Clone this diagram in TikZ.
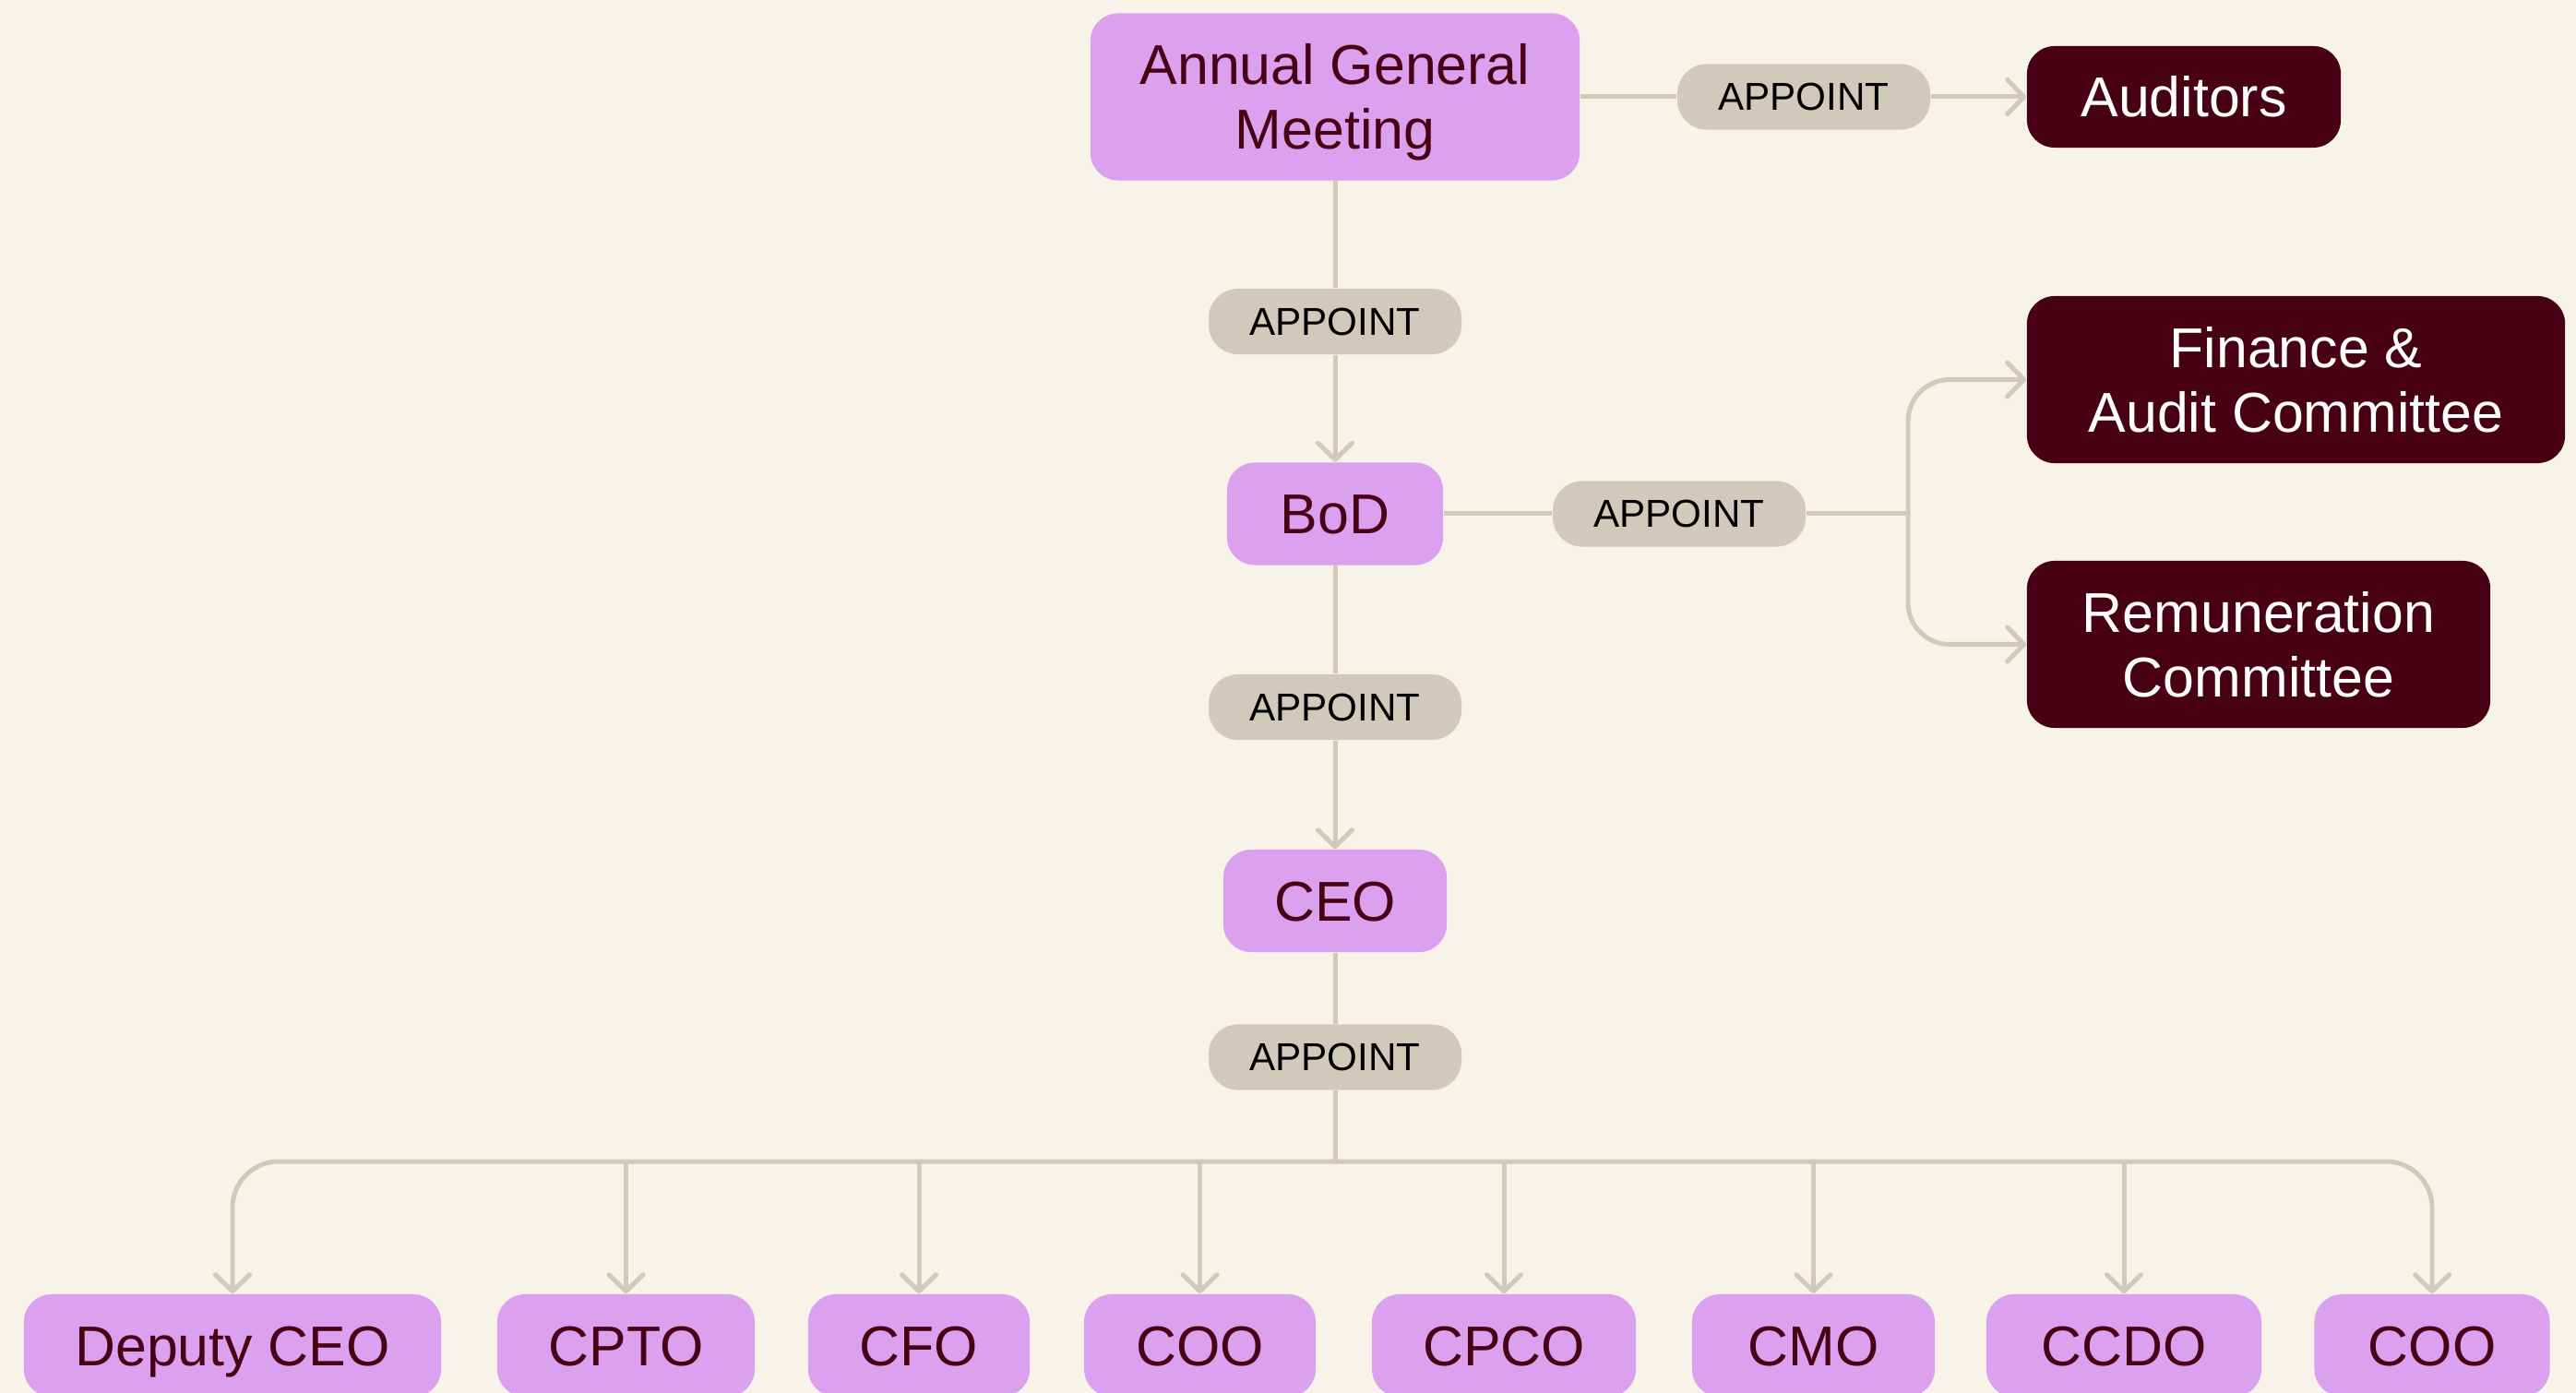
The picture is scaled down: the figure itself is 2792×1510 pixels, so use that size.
\documentclass[tikz,border=0pt]{standalone}
\usepackage{fontspec}
\setmainfont{Liberation Sans}
\usetikzlibrary{arrows.meta}
\definecolor{paper}{RGB}{247,243,233}
\definecolor{lilac}{RGB}{219,160,238}
\definecolor{wine}{RGB}{72,0,20}
\definecolor{sand}{RGB}{209,201,186}
\begin{document}
\begin{tikzpicture}[x=0.01cm,y=-0.01cm]
\tikzstyle{every node}+=[inner sep=0pt]
\tikzstyle{office}=[fill=lilac, text=wine, rounded corners=0.3cm, align=center, text height=12.4pt, text depth=0pt, font=\fontsize{17.3}{20}\selectfont]
\tikzstyle{council}=[fill=wine, text=white, rounded corners=0.3cm, align=center, text height=12.4pt, text depth=0pt, font=\fontsize{17.3}{20}\selectfont]
\tikzstyle{twoline}=[text height=32.4pt]
\tikzstyle{appoint}=[fill=sand, text=black, rounded corners=0.32cm, minimum width=2.74cm, minimum height=0.71cm, font=\fontsize{12}{14}\selectfont]
\tikzstyle{link}=[draw=sand, line width=0.05cm]
\tikzstyle{arr}=[link, -{Straight Barb[length=0.18cm,width=0.37cm,round]}]
\useasboundingbox (0,0) rectangle (2792,1510);
\fill [paper] (0,0) rectangle (2792,1510);
\clip (0,0) rectangle (2792,1510);
\node [office, twoline, minimum width=5.30cm, minimum height=1.81cm] (agm) at (1447,105) {Annual General\\Meeting};
\node [appoint] (app1) at (1955,105) {APPOINT};
\node [council, minimum width=3.40cm, minimum height=1.10cm] (aud) at (2367,105) {Auditors};
\node [appoint] (app2) at (1447,348.5) {APPOINT};
\node [office, minimum width=2.34cm, minimum height=1.11cm] (bod) at (1447,557) {BoD};
\node [appoint] (app3) at (1820,557) {APPOINT};
\node [council, twoline, minimum width=5.83cm, minimum height=1.81cm] (fac) at (2488.5,411.5) {Finance \&\\Audit Committee};
\node [council, twoline, minimum width=5.02cm, minimum height=1.81cm] (rem) at (2448,698.5) {Remuneration\\Committee};
\node [appoint] (app4) at (1447,766.5) {APPOINT};
\node [office, minimum width=2.42cm, minimum height=1.11cm] (ceo) at (1447,976.5) {CEO};
\node [appoint] (app5) at (1447,1146) {APPOINT};
\node [office, minimum width=4.52cm, minimum height=1.11cm] (dep) at (252,1458.5) {Deputy CEO};
\node [office, minimum width=2.79cm, minimum height=1.11cm] (cpto) at (678.5,1458.5) {CPTO};
\node [office, minimum width=2.40cm, minimum height=1.11cm] (cfo) at (996,1458.5) {CFO};
\node [office, minimum width=2.51cm, minimum height=1.11cm] (coo1) at (1300.5,1458.5) {COO};
\node [office, minimum width=2.86cm, minimum height=1.11cm] (cpco) at (1630,1458.5) {CPCO};
\node [office, minimum width=2.63cm, minimum height=1.11cm] (cmo) at (1965.5,1458.5) {CMO};
\node [office, minimum width=2.98cm, minimum height=1.11cm] (ccdo) at (2302,1458.5) {CCDO};
\node [office, minimum width=2.55cm, minimum height=1.11cm] (coo2) at (2636,1458.5) {COO};
\coordinate (split) at (2068,557);
\coordinate (bus) at (1447,1259);
\draw [link] (agm) -- (app1);
\draw [arr] (app1) -- (aud);
\draw [link] (agm) -- (app2);
\draw [arr] (app2) -- (bod);
\draw [link] (bod) -- (app3);
\draw [link] (app3) -- (split);
\draw [arr, rounded corners=0.45cm] (split) |- (fac.west);
\draw [arr, rounded corners=0.45cm] (split) |- (rem.west);
\draw [link] (bod) -- (app4);
\draw [arr] (app4) -- (ceo);
\draw [link] (ceo) -- (app5);
\draw [link] (app5) -- (bus);
\draw [arr, rounded corners=0.5cm] (bus) -| (dep.north);
\draw [arr, rounded corners=0.5cm] (bus) -| (coo2.north);
\draw [arr] (cpto.north |- bus) -- (cpto.north);
\draw [arr] (cfo.north |- bus) -- (cfo.north);
\draw [arr] (coo1.north |- bus) -- (coo1.north);
\draw [arr] (cpco.north |- bus) -- (cpco.north);
\draw [arr] (cmo.north |- bus) -- (cmo.north);
\draw [arr] (ccdo.north |- bus) -- (ccdo.north);
\end{tikzpicture}
\end{document}
